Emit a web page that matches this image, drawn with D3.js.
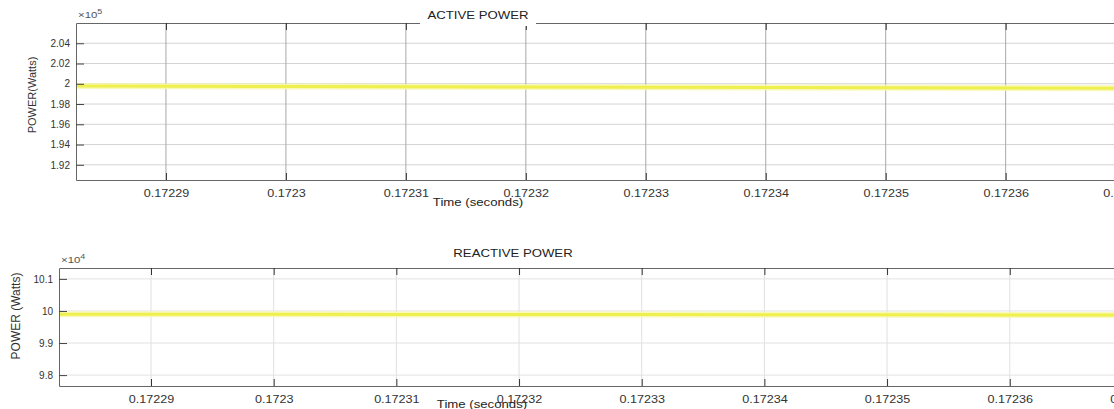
<!DOCTYPE html>
<html><head><meta charset="utf-8">
<script src="https://cdn.jsdelivr.net/npm/d3@7"></script>
<style>body{margin:0;background:#fff}svg{display:block}text{font-family:"Liberation Sans",Arial,sans-serif}</style>
</head><body><svg id="c" width="1114" height="409"></svg>
<script>
// ---- data ----
const times = [0.1722825, 0.17229, 0.1723, 0.17231, 0.17232, 0.17233, 0.17234, 0.17235, 0.17236, 0.1723707];
const activePower = [199770, 199750, 199725, 199705, 199685, 199665, 199640, 199615, 199590, 199560];
const reactivePower = [99900, 99898, 99895, 99892, 99890, 99887, 99884, 99880, 99876, 99871];
const xTickValues = [0.17229, 0.1723, 0.17231, 0.17232, 0.17233, 0.17234, 0.17235, 0.17236, 0.17237];
const xTickLabels = ["0.17229", "0.1723", "0.17231", "0.17232", "0.17233", "0.17234", "0.17235", "0.17236", "0.17237"];
const activeYTicks = [192000, 194000, 196000, 198000, 200000, 202000, 204000];
const activeYLabels = ["1.92", "1.94", "1.96", "1.98", "2", "2.02", "2.04"];
const reactiveYTicks = [98000, 99000, 100000, 101000];
const reactiveYLabels = ["9.8", "9.9", "10", "10.1"];

const svg = d3.select("#c");
const SX = 1.2; // horizontal stretch of the original picture

function panel(o) {
  const g = svg.append("g");
  const x = d3.scaleLinear().domain([times[0], times[times.length - 1]]).range([o.left, o.right]);
  const y = d3.scaleLinear().domain(o.yDomain).range([o.bottom, o.top]);
  // grid
  g.append("g").selectAll("line").data(o.yTicks).join("line")
    .attr("x1", o.left).attr("x2", o.right).attr("y1", d => y(d)).attr("y2", d => y(d))
    .attr("stroke", o.hGrid).attr("stroke-width", 1);
  g.append("g").selectAll("line").data(xTickValues).join("line")
    .attr("x1", d => x(d)).attr("x2", d => x(d)).attr("y1", o.top).attr("y2", o.bottom)
    .attr("stroke", o.vGrid).attr("stroke-width", 1);
  // line
  const line = d3.line().x((d, i) => x(times[i])).y(d => y(d));
  g.append("path").datum(o.values).attr("d", line).attr("fill", "none")
    .attr("stroke", "#f7f7a8").attr("stroke-width", 6).attr("opacity", 0.8);
  g.append("path").datum(o.values).attr("d", line).attr("fill", "none")
    .attr("stroke", "#efef50").attr("stroke-width", 3);
  // axes
  const xb = d3.axisBottom(x).tickValues(xTickValues).tickFormat((d, i) => xTickLabels[i]).tickSizeInner(-7).tickSizeOuter(0).tickPadding(10);
  const ax = g.append("g").attr("transform", `translate(0,${o.bottom})`).call(xb);
  ax.select(".domain").attr("stroke", "#666");
  ax.selectAll(".tick line").attr("stroke", "#333");
  ax.selectAll("text").attr("font-size", "10.5px").attr("fill", "#333").attr("transform", `scale(${SX},1)`);
  const xt = d3.axisTop(x).tickValues(xTickValues).tickFormat("").tickSizeInner(-7).tickSizeOuter(0);
  const axt = g.append("g").attr("transform", `translate(0,${o.top})`).call(xt);
  axt.select(".domain").attr("stroke", "#666");
  axt.selectAll(".tick line").attr("stroke", "#333");
  const yl = d3.axisLeft(y).tickValues(o.yTicks).tickFormat((d, i) => o.yLabels[i]).tickSizeInner(-8).tickSizeOuter(0).tickPadding(4);
  const ay = g.append("g").attr("transform", `translate(${o.left},0)`).call(yl);
  ay.select(".domain").attr("stroke", "#666");
  ay.selectAll(".tick line").attr("stroke", "#444");
  ay.selectAll("text").attr("font-size", "10px").attr("fill", "#333").attr("dx", -2);
  // title with white background breaking top border
  const tw = o.titleW;
  g.append("rect").attr("x", o.titleX - tw / 2).attr("y", o.top - 3).attr("width", tw).attr("height", 6).attr("fill", "#fff");
  g.append("text").attr("transform", `translate(${o.titleX},${o.titleY}) scale(${SX},1)`)
    .attr("text-anchor", "middle").attr("font-size", "11px").attr("fill", "#222").text(o.title);
  // x label
  g.append("text").attr("transform", `translate(${o.xLabelX},${o.xLabelY}) scale(${SX},1)`)
    .attr("text-anchor", "middle").attr("font-size", "11px").attr("fill", "#222").text("Time (seconds)");
  // y label
  g.append("text").attr("transform", `translate(${o.yLabelX},${o.yLabelY}) rotate(-90)`)
    .attr("text-anchor", "middle").attr("font-size", o.yLabelSize).attr("fill", "#333").text(o.yLabel);
  // exponent
  const ex = g.append("text").attr("transform", `translate(${o.left + 2},${o.top - 5}) scale(${SX},1)`)
    .attr("font-size", "9.5px").attr("fill", "#555");
  ex.append("tspan").text("\u00d710");
  ex.append("tspan").attr("dy", -4).attr("font-size", "7.5px").text(o.exp);
}

panel({left: 76, right: 1134, top: 23, bottom: 180, yDomain: [190500, 206000],
  yTicks: activeYTicks, yLabels: activeYLabels, values: activePower,
  hGrid: "#d4d4d4", vGrid: "#a8a8a8",
  title: "ACTIVE POWER", titleX: 478, titleY: 19, titleW: 116,
  xLabelX: 478, xLabelY: 206, yLabel: "POWER(Watts)", yLabelX: 36, yLabelY: 95, yLabelSize: "11px", exp: "5"});

panel({left: 59, right: 1141, top: 268, bottom: 386, yDomain: [97660, 101340],
  yTicks: reactiveYTicks, yLabels: reactiveYLabels, values: reactivePower,
  hGrid: "#e2e2e2", vGrid: "#e0e0e0",
  title: "REACTIVE POWER", titleX: 513, titleY: 257, titleW: 0,
  xLabelX: 482, xLabelY: 408, yLabel: "POWER (Watts)", yLabelX: 20, yLabelY: 316, yLabelSize: "12px", exp: "4"});
</script></body></html>
